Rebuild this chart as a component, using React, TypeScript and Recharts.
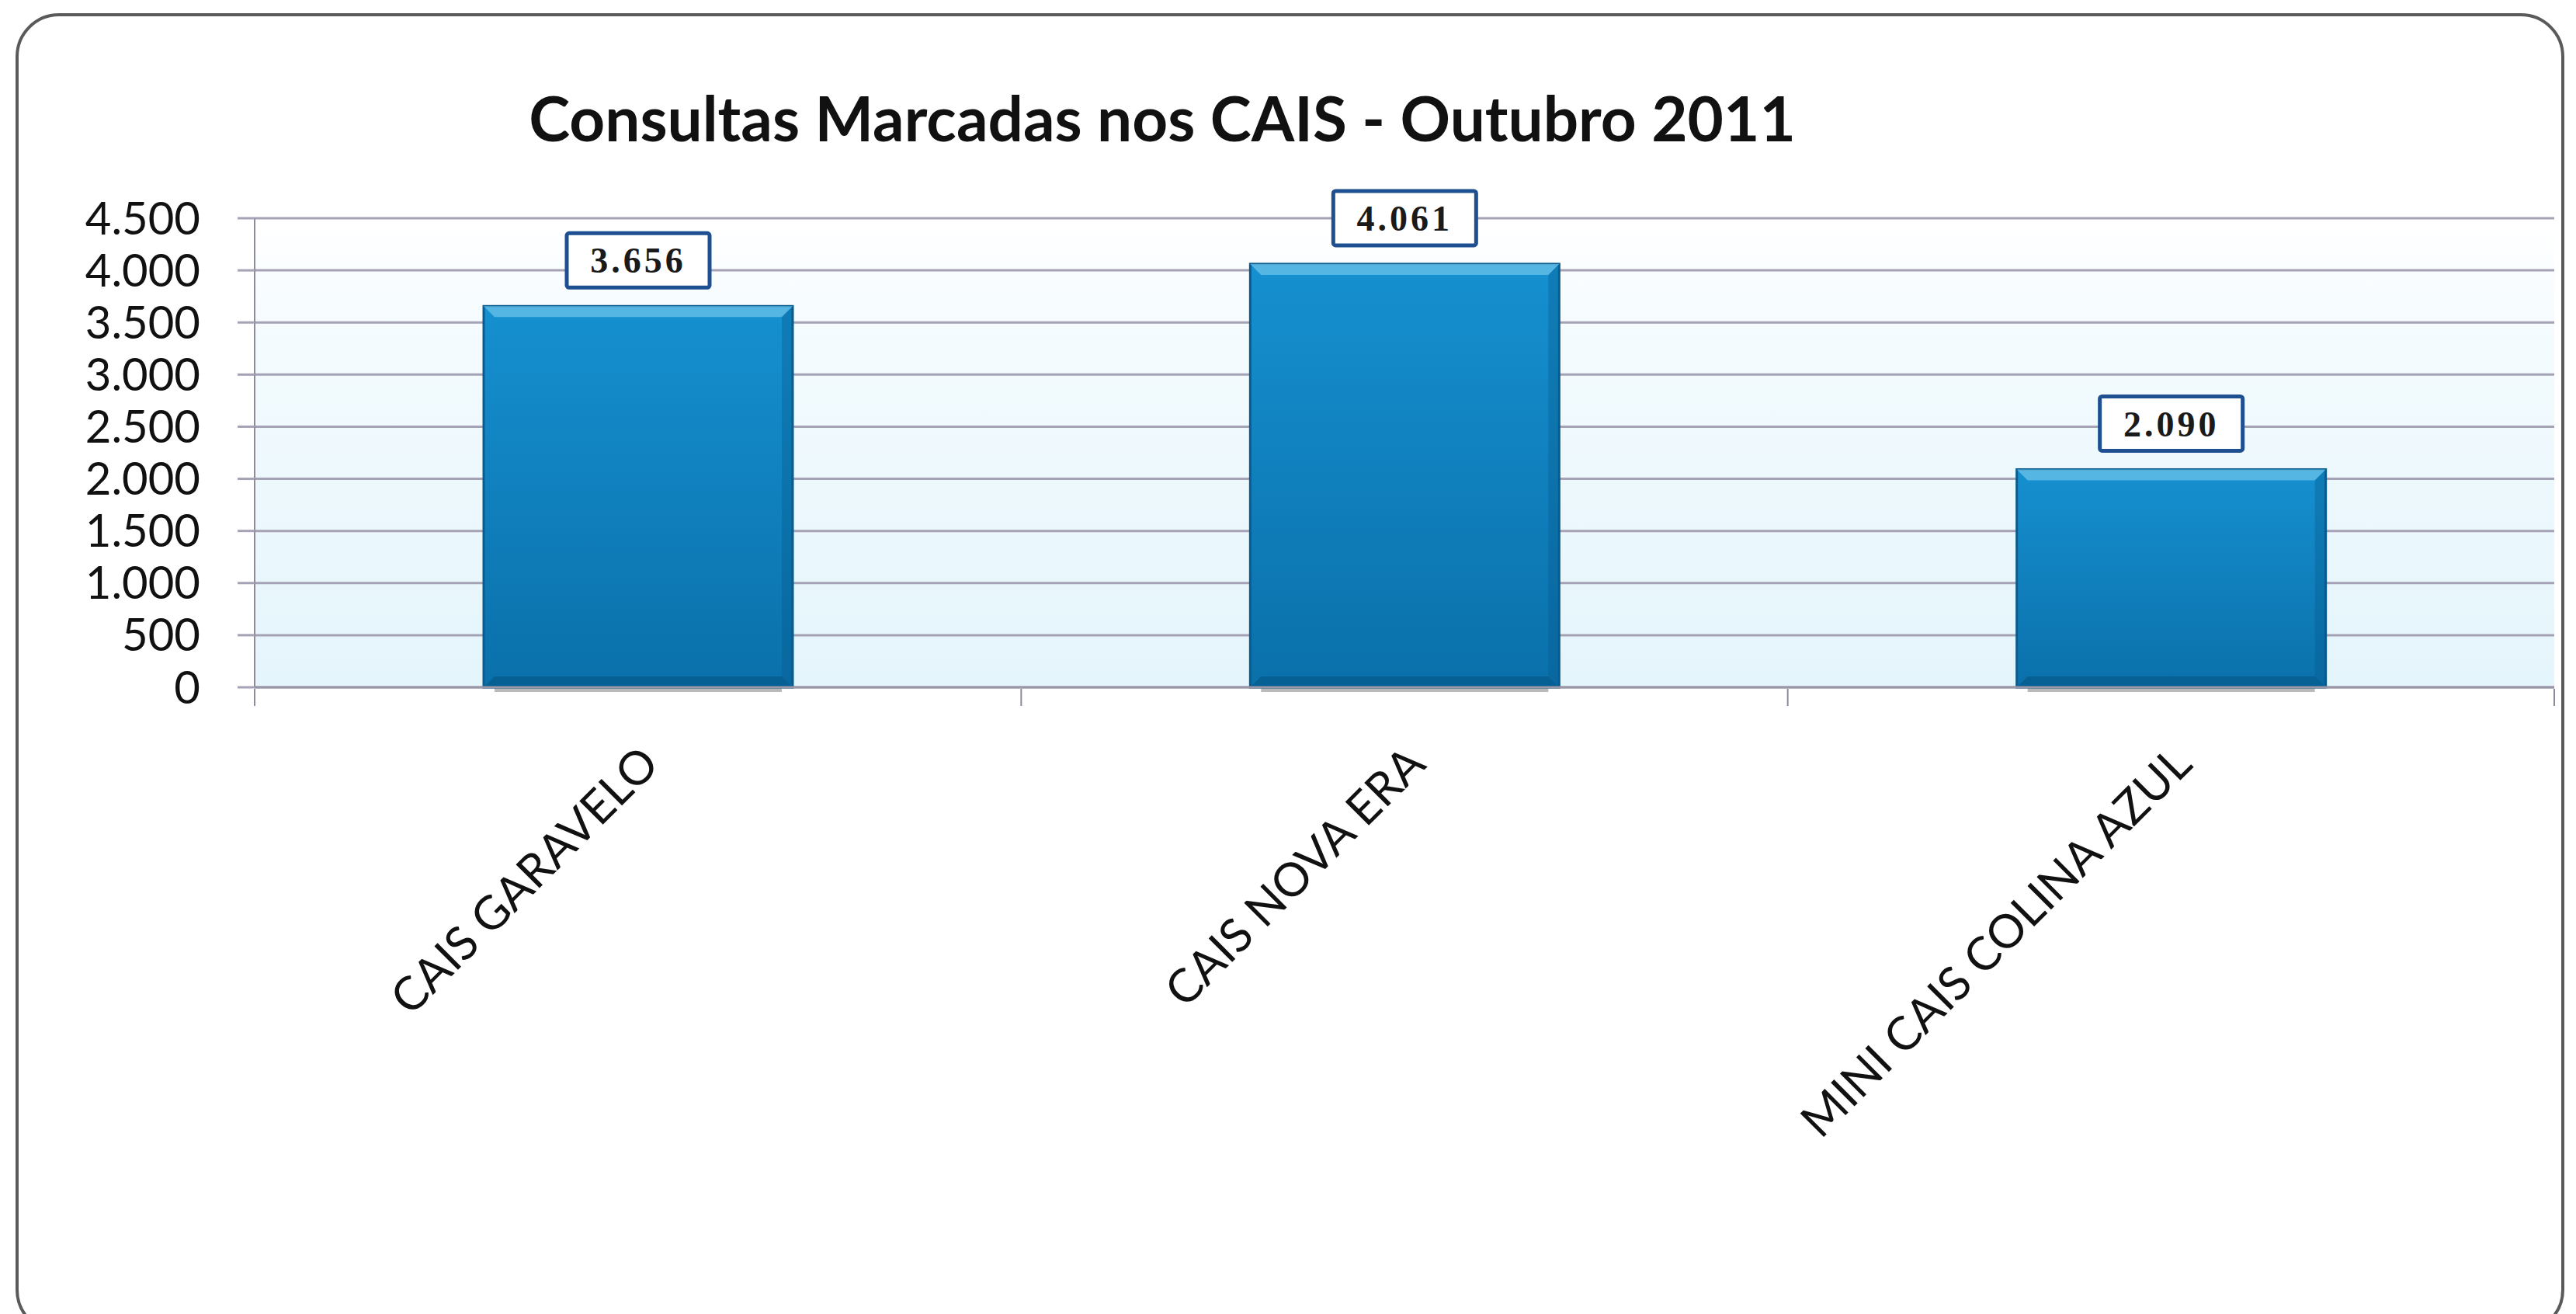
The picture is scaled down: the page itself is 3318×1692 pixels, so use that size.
import React from 'react';
import { BarChart, Bar, XAxis, YAxis, CartesianGrid, LabelList } from 'recharts';

const categories = ['CAIS GARAVELO', 'CAIS NOVA ERA', 'MINI CAIS COLINA AZUL'];
const consultas = [3656, 4061, 2090];
const yTicks = [0, 500, 1000, 1500, 2000, 2500, 3000, 3500, 4000, 4500];
const title = 'Consultas Marcadas nos CAIS - Outubro 2011';

const data = categories.map((name, i) => ({ name, value: consultas[i] }));

const W = 3318;
const H = 1692;
const PLOT_LEFT = 328;
const PLOT_RIGHT = 3290;
const PLOT_TOP = 281;
const PLOT_BOTTOM = 885;
const HALF_BAND = (PLOT_RIGHT - PLOT_LEFT) / categories.length / 2;

// pt-BR thousands separator
const fmt = (v: number) => String(v).replace(/\B(?=(\d{3})+(?!\d))/g, '.');

const BarShape = (props: any) => {
  const { x, y, width, height } = props;
  if (!height || height <= 0) return null;
  const b = 14;
  return (
    <g>
      <rect x={x + 14} y={y + height} width={width - 28} height={6} fill="#3a3a3a" opacity={0.35} />
      <rect x={x} y={y} width={width} height={height} fill="url(#barGrad)" stroke="#0a5c8e" strokeWidth={3} />
      <polygon
        points={`${x},${y} ${x + width},${y} ${x + width - b},${y + b} ${x + b},${y + b}`}
        fill="#6cc3ea"
        opacity={0.75}
      />
      <polygon
        points={`${x + width},${y} ${x + width},${y + height} ${x + width - b},${y + height - b} ${x + width - b},${y + b}`}
        fill="#065a8a"
        opacity={0.35}
      />
      <polygon
        points={`${x},${y + height} ${x + width},${y + height} ${x + width - b},${y + height - b} ${x + b},${y + height - b}`}
        fill="#04507d"
        opacity={0.5}
      />
    </g>
  );
};

const ValueLabel = (props: any) => {
  const { x, y, width, value } = props;
  const cx = x + width / 2;
  const bw = 184;
  const bh = 70;
  const gap = 24;
  return (
    <g>
      <rect x={cx - bw / 2} y={y - gap - bh} width={bw} height={bh} fill="#fff" stroke="#1d4f91" strokeWidth={5} rx={3} />
      <text
        x={cx}
        y={y - gap - bh / 2}
        dy="0.35em"
        textAnchor="middle"
        fontFamily="'Liberation Serif', serif"
        fontWeight="bold"
        fontSize={46}
        letterSpacing={4}
        fill="#1a1a1a"
      >
        {fmt(value)}
      </text>
    </g>
  );
};

const CategoryTick = (props: any) => {
  const { x, y, payload, index } = props;
  return (
    <g>
      {index === 0 && <line x1={x - HALF_BAND} y1={y} x2={x - HALF_BAND} y2={y + 22} stroke="#8d8a9c" strokeWidth={2} />}
      <line x1={x + HALF_BAND} y1={y} x2={x + HALF_BAND} y2={y + 22} stroke="#8d8a9c" strokeWidth={2} />
      <text
        transform={`translate(${x + 30},${y + 100}) rotate(-45)`}
        textAnchor="end"
        fontFamily="Lato, sans-serif"
        fontSize={60}
        fill="#111"
      >
        {payload.value}
      </text>
    </g>
  );
};

export default function App() {
  return (
    <div style={{ position: 'absolute', left: 0, top: 0, width: W, height: H, background: '#fff', overflow: 'hidden' }}>
      <div
        style={{
          position: 'absolute',
          left: 20,
          top: 17,
          width: 3283,
          height: 1700,
          border: '4px solid #5a5a5a',
          borderRadius: 56,
          boxSizing: 'border-box',
        }}
      />
      <div
        style={{
          position: 'absolute',
          left: 0,
          top: 111,
          width: 2994,
          textAlign: 'center',
          fontFamily: 'Lato, sans-serif',
          fontWeight: 'bold',
          fontSize: 80,
          lineHeight: '80px',
          color: '#111',
        }}
      >
        {title}
      </div>
      <div style={{ position: 'absolute', left: 0, top: 0 }}>
        <BarChart
          width={W}
          height={H}
          data={data}
          margin={{ top: PLOT_TOP, right: W - PLOT_RIGHT, left: 0, bottom: H - PLOT_BOTTOM - 400 }}
        >
          <defs>
            <linearGradient id="plotBg" x1="0" y1="0" x2="0" y2="1">
              <stop offset="0%" stopColor="#ffffff" />
              <stop offset="25%" stopColor="#f4fbfe" />
              <stop offset="100%" stopColor="#e4f5fb" />
            </linearGradient>
            <linearGradient id="barGrad" x1="0" y1="0" x2="0" y2="1">
              <stop offset="0%" stopColor="#1690d0" />
              <stop offset="100%" stopColor="#0a70aa" />
            </linearGradient>
          </defs>
          <CartesianGrid vertical={false} stroke="#a6a2b6" strokeWidth={3} fill="url(#plotBg)" />
          <XAxis
            dataKey="name"
            interval={0}
            height={400}
            tickLine={false}
            tickSize={0}
            tick={<CategoryTick />}
            axisLine={{ stroke: '#9a97a8', strokeWidth: 3 }}
          />
          <YAxis
            width={PLOT_LEFT}
            domain={[0, 4500]}
            ticks={yTicks}
            tickFormatter={fmt}
            tickSize={22}
            tickMargin={48}
            tickLine={{ stroke: '#a6a2b6', strokeWidth: 3 }}
            axisLine={{ stroke: '#8d8a9c', strokeWidth: 2 }}
            tick={{ fill: '#111', fontSize: 58, fontFamily: 'Lato, sans-serif' }}
            interval={0}
          />
          <Bar dataKey="value" barSize={398} shape={<BarShape />} isAnimationActive={false}>
            <LabelList dataKey="value" content={<ValueLabel />} />
          </Bar>
        </BarChart>
      </div>
    </div>
  );
}
